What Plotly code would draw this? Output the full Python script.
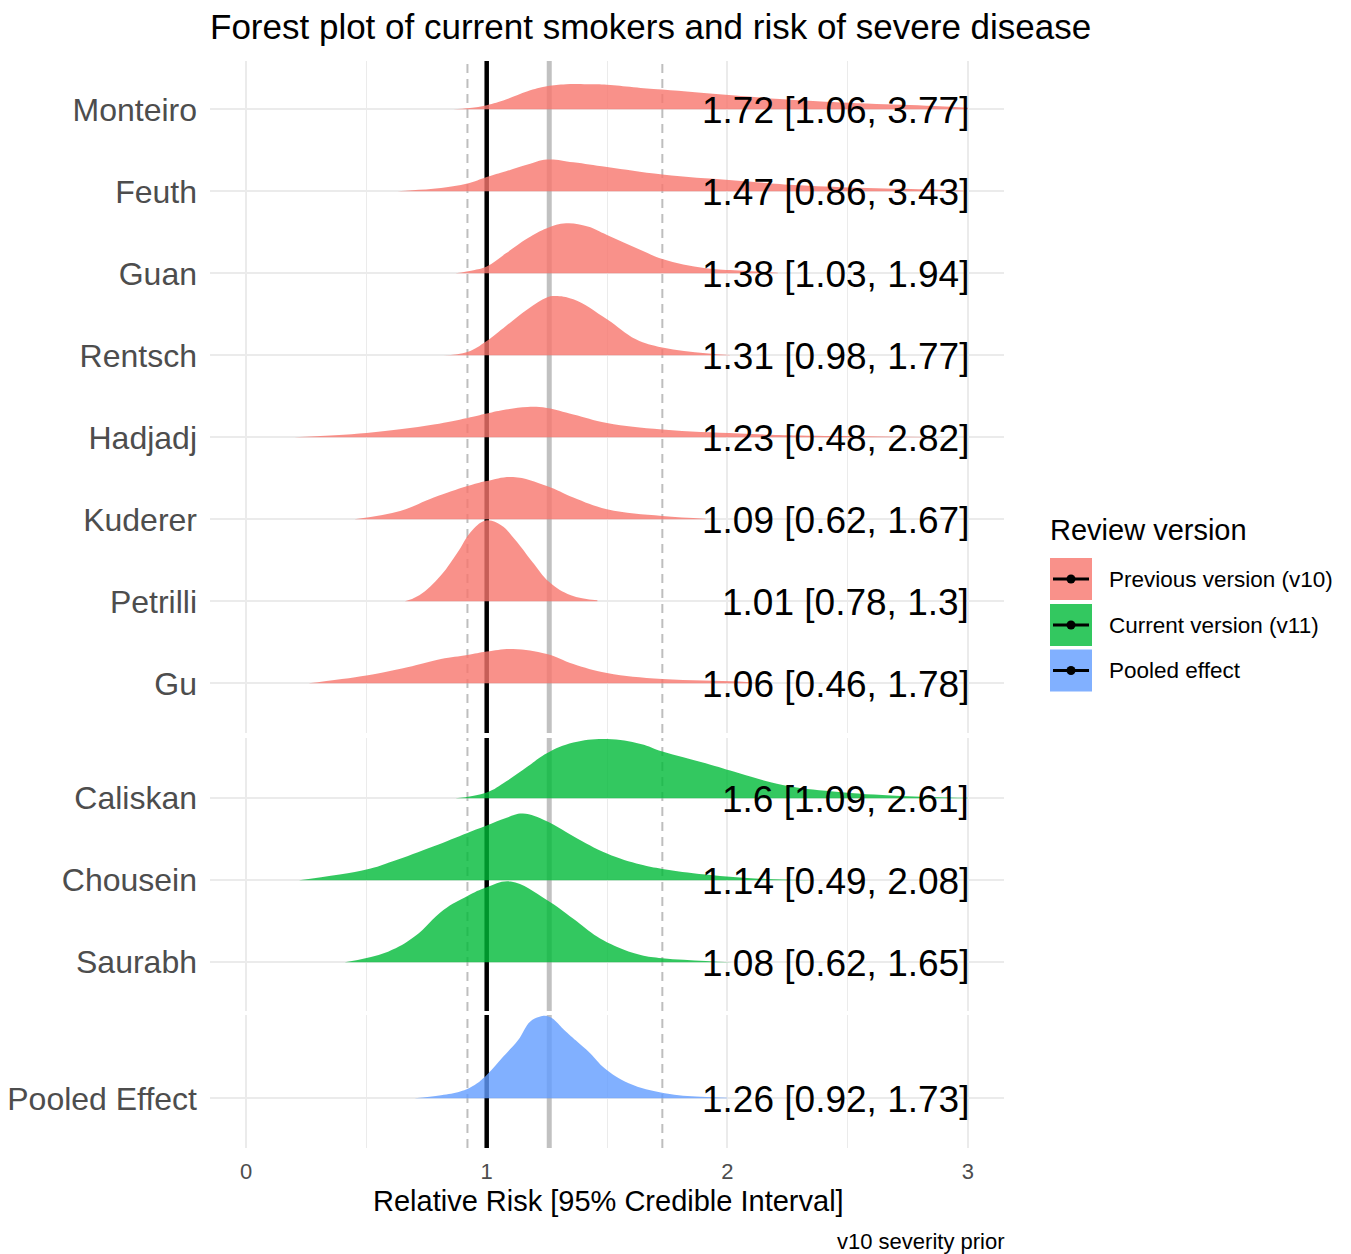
import plotly.graph_objects as go

# ---------------- data ----------------
STUDIES_V10 = ["Monteiro", "Feuth", "Guan", "Rentsch", "Hadjadj", "Kuderer", "Petrilli", "Gu"]
MEDIAN_V10 = [1.72, 1.47, 1.38, 1.31, 1.23, 1.09, 1.01, 1.06]
LOWER_V10 = [1.06, 0.86, 1.03, 0.98, 0.48, 0.62, 0.78, 0.46]
UPPER_V10 = [3.77, 3.43, 1.94, 1.77, 2.82, 1.67, 1.3, 1.78]

STUDIES_V11 = ["Caliskan", "Chousein", "Saurabh"]
MEDIAN_V11 = [1.6, 1.14, 1.08]
LOWER_V11 = [1.09, 0.49, 0.62]
UPPER_V11 = [2.61, 2.08, 1.65]

STUDIES_POOLED = ["Pooled Effect"]
MEDIAN_POOLED = [1.26]
LOWER_POOLED = [0.92]
UPPER_POOLED = [1.73]

NULL_EFFECT = 1

GROUP_NAMES = ["Previous version (v10)", "Current version (v11)", "Pooled effect"]

# posterior density curves (relative risk, scaled density height)
MONTEIRO_X = [0.86, 0.93, 1.00, 1.08, 1.17, 1.25, 1.33, 1.42, 1.50, 1.61, 1.73, 2.02, 2.30, 2.58, 2.86, 3.00]
MONTEIRO_H = [0.00, 0.015, 0.05, 0.12, 0.22, 0.28, 0.305, 0.305, 0.30, 0.27, 0.24, 0.17, 0.11, 0.07, 0.04, 0.02]
FEUTH_X = [0.63, 0.69, 0.81, 0.92, 1.00, 1.08, 1.17, 1.25, 1.36, 1.50, 1.73, 2.02, 2.30, 2.58, 2.86, 2.98]
FEUTH_H = [0.00, 0.012, 0.04, 0.094, 0.174, 0.244, 0.326, 0.387, 0.354, 0.296, 0.204, 0.134, 0.073, 0.04, 0.021, 0.006]
GUAN_X = [0.87, 0.95, 1.00, 1.08, 1.17, 1.25, 1.33, 1.42, 1.50, 1.64, 1.73, 1.91, 2.05, 2.21]
GUAN_H = [0.00, 0.04, 0.082, 0.244, 0.427, 0.549, 0.61, 0.57, 0.467, 0.285, 0.175, 0.061, 0.033, 0.008]
RENTSCH_X = [0.82, 0.92, 1.00, 1.08, 1.17, 1.25, 1.28, 1.36, 1.50, 1.62, 1.73, 1.91, 2.01]
RENTSCH_H = [0.00, 0.04, 0.174, 0.357, 0.561, 0.704, 0.723, 0.683, 0.439, 0.195, 0.094, 0.024, 0.004]
HADJADJ_X = [0.20, 0.50, 0.78, 0.92, 1.00, 1.08, 1.17, 1.25, 1.36, 1.50, 1.73, 2.05, 2.30, 2.58, 2.94]
HADJADJ_H = [0.00, 0.052, 0.155, 0.235, 0.289, 0.338, 0.37, 0.357, 0.277, 0.174, 0.094, 0.045, 0.021, 0.012, 0.0]
KUDERER_X = [0.45, 0.64, 0.78, 0.92, 1.00, 1.11, 1.25, 1.36, 1.50, 1.73, 1.91]
KUDERER_H = [0.00, 0.101, 0.265, 0.406, 0.467, 0.516, 0.406, 0.265, 0.122, 0.04, 0.008]
PETRILLI_X = [0.66, 0.72, 0.81, 0.88, 0.94, 1.00, 1.06, 1.12, 1.19, 1.26, 1.35, 1.46]
PETRILLI_H = [0.00, 0.073, 0.317, 0.601, 0.866, 0.988, 0.927, 0.744, 0.479, 0.235, 0.073, 0.012]
GU_X = [0.26, 0.50, 0.67, 0.81, 0.92, 1.00, 1.11, 1.25, 1.36, 1.50, 1.73, 2.05, 2.14]
GU_H = [0.00, 0.094, 0.195, 0.296, 0.345, 0.387, 0.418, 0.357, 0.235, 0.126, 0.052, 0.021, 0.0]
CALISKAN_X = [0.87, 1.00, 1.08, 1.17, 1.25, 1.36, 1.50, 1.64, 1.73, 1.91, 2.05, 2.23, 2.44, 2.72, 3.00]
CALISKAN_H = [0.00, 0.07, 0.204, 0.387, 0.549, 0.679, 0.723, 0.662, 0.57, 0.427, 0.305, 0.162, 0.082, 0.028, 0.006]
CHOUSEIN_X = [0.22, 0.50, 0.61, 0.78, 0.92, 1.00, 1.08, 1.15, 1.25, 1.36, 1.50, 1.64, 1.73, 1.91, 2.16, 2.60]
CHOUSEIN_H = [0.00, 0.13, 0.232, 0.415, 0.577, 0.667, 0.76, 0.813, 0.72, 0.537, 0.326, 0.191, 0.138, 0.07, 0.016, 0.0]
SAURABH_X = [0.41, 0.59, 0.70, 0.82, 0.92, 1.00, 1.10, 1.25, 1.36, 1.46, 1.54, 1.64, 1.73, 1.91, 2.02]
SAURABH_H = [0.00, 0.13, 0.313, 0.638, 0.809, 0.915, 0.984, 0.76, 0.53, 0.31, 0.19, 0.089, 0.049, 0.016, 0.0]
POOLED_X = [0.70, 0.81, 0.89, 0.95, 1.00, 1.07, 1.13, 1.18, 1.22, 1.26, 1.33, 1.37, 1.43, 1.49, 1.59, 1.74, 1.89, 2.00]
POOLED_H = [0.00, 0.037, 0.082, 0.162, 0.284, 0.512, 0.707, 0.935, 0.996, 0.996, 0.813, 0.707, 0.549, 0.366, 0.183, 0.061, 0.018, 0.006]

DENS_V10 = [(MONTEIRO_X, MONTEIRO_H), (FEUTH_X, FEUTH_H), (GUAN_X, GUAN_H), (RENTSCH_X, RENTSCH_H),
            (HADJADJ_X, HADJADJ_H), (KUDERER_X, KUDERER_H), (PETRILLI_X, PETRILLI_H), (GU_X, GU_H)]
DENS_V11 = [(CALISKAN_X, CALISKAN_H), (CHOUSEIN_X, CHOUSEIN_H), (SAURABH_X, SAURABH_H)]
DENS_POOLED = [(POOLED_X, POOLED_H)]

# ---------------- styling ----------------
W, H = 1351, 1254
FONT = "Liberation Sans, Arial, sans-serif"
FILLS = ["rgba(248,118,109,0.8)", "rgba(0,186,56,0.8)", "rgba(97,156,255,0.8)"]
GRID = "#EBEBEB"
LABEL_X = 3


def px_x(p):
    return p / W


def px_y(p):
    return 1 - p / H


X_DOMAIN = [px_x(210), px_x(1004)]
PANELS = [
    dict(names=STUDIES_V10, med=MEDIAN_V10, lo=LOWER_V10, hi=UPPER_V10, dens=DENS_V10,
         xa="x", ya="y", dom=[px_y(733), px_y(61)], rng=[0.394, 8.589]),
    dict(names=STUDIES_V11, med=MEDIAN_V11, lo=LOWER_V11, hi=UPPER_V11, dens=DENS_V11,
         xa="x2", ya="y2", dom=[px_y(1011), px_y(738)], rng=[0.406, 3.735]),
    dict(names=STUDIES_POOLED, med=MEDIAN_POOLED, lo=LOWER_POOLED, hi=UPPER_POOLED, dens=DENS_POOLED,
         xa="x3", ya="y3", dom=[px_y(1148), px_y(1015)], rng=[0.394, 2.016]),
]


def fmt(v):
    return f"{round(v, 2):g}"


fig = go.Figure()
shapes = []
annotations = []

REF_LINES = [
    (NULL_EFFECT, dict(color="black", width=4.5)),
    (MEDIAN_POOLED[0], dict(color="rgba(160,160,160,0.65)", width=5)),
    (LOWER_POOLED[0], dict(color="#BEBEBE", width=2, dash="9px,6px")),
    (UPPER_POOLED[0], dict(color="#BEBEBE", width=2, dash="9px,6px")),
]

for gi, p in enumerate(PANELS):
    n = len(p["names"])
    rows = [n - i for i in range(n)]
    # reference lines in each panel (drawn under the ridges)
    for v, ln in REF_LINES:
        fig.add_trace(go.Scatter(x=[v, v], y=p["rng"], mode="lines", line=ln,
                                 xaxis=p["xa"], yaxis=p["ya"], showlegend=False, hoverinfo="skip"))
    # ridges
    for i, (xs, hs) in enumerate(p["dens"]):
        r = rows[i]
        fig.add_trace(go.Scatter(x=[xs[0], xs[-1]], y=[r, r], mode="lines",
                                 line=dict(width=0, color="rgba(0,0,0,0)"),
                                 xaxis=p["xa"], yaxis=p["ya"], showlegend=False, hoverinfo="skip"))
        fig.add_trace(go.Scatter(x=xs, y=[r + h for h in hs], mode="lines",
                                 line=dict(width=0, shape="spline", smoothing=1.15, color=FILLS[gi]),
                                 fill="tonexty", fillcolor=FILLS[gi],
                                 xaxis=p["xa"], yaxis=p["ya"], showlegend=False,
                                 name=p["names"][i]))
        annotations.append(dict(
            x=LABEL_X, y=r, xref=p["xa"], yref=p["ya"], xanchor="right", yanchor="middle",
            text=f"{fmt(p['med'][i])} [{fmt(p['lo'][i])}, {fmt(p['hi'][i])}]",
            showarrow=False, xshift=3, yshift=-1, font=dict(family=FONT, size=37, color="black")))

    xkey = "xaxis" if gi == 0 else f"xaxis{gi + 1}"
    ykey = "yaxis" if gi == 0 else f"yaxis{gi + 1}"
    fig.update_layout(**{
        xkey: dict(domain=X_DOMAIN, range=[-0.15, 3.15], anchor=p["ya"],
                   tickvals=[0, 1, 2, 3], ticktext=["0", "1", "2", "3"],
                   showticklabels=(gi == 2), ticks="", showline=False, zeroline=False,
                   showgrid=True, gridcolor=GRID, gridwidth=2.2,
                   minor=dict(dtick=0.5, tick0=0, showgrid=True, gridcolor=GRID, gridwidth=1.1),
                   tickfont=dict(family=FONT, size=22, color="#4D4D4D"),
                   ticklabelstandoff=8, automargin=False, fixedrange=True),
        ykey: dict(domain=p["dom"], range=p["rng"], anchor=p["xa"],
                   tickvals=rows, ticktext=p["names"], ticks="", showline=False, zeroline=False,
                   showgrid=True, gridcolor=GRID, gridwidth=2.2,
                   tickfont=dict(family=FONT, size=32, color="#4D4D4D"),
                   ticklabelstandoff=12, automargin=False, fixedrange=True),
    })

# title, axis title, caption
annotations.append(dict(x=px_x(650), y=px_y(27), xref="paper", yref="paper", xanchor="center",
                        yanchor="middle", showarrow=False,
                        text="Forest plot of current smokers and risk of severe disease",
                        font=dict(family=FONT, size=35, color="black")))
annotations.append(dict(x=px_x(608), y=px_y(1201), xref="paper", yref="paper", xanchor="center",
                        yanchor="middle", showarrow=False,
                        text="Relative Risk [95% Credible Interval]",
                        font=dict(family=FONT, size=29, color="black")))
annotations.append(dict(x=px_x(1007), y=px_y(1241), xref="paper", yref="paper", xanchor="right",
                        yanchor="middle", showarrow=False, text="v10 severity prior",
                        font=dict(family=FONT, size=22, color="black")))

# legend (drawn manually to mimic ggplot keys)
annotations.append(dict(x=px_x(1048), y=px_y(530), xref="paper", yref="paper", xanchor="left",
                        yanchor="middle", showarrow=False, text="Review version",
                        font=dict(family=FONT, size=29, color="black")))
KEY_TOPS = [558, 604, 649.5]
for k, (name, top) in enumerate(zip(GROUP_NAMES, KEY_TOPS)):
    bot = top + 42
    cy = (top + bot) / 2
    shapes.append(dict(type="rect", xref="paper", yref="paper", x0=px_x(1050), x1=px_x(1092),
                       y0=px_y(bot), y1=px_y(top), fillcolor=FILLS[k], line=dict(width=0)))
    shapes.append(dict(type="line", xref="paper", yref="paper", x0=px_x(1053), x1=px_x(1089),
                       y0=px_y(cy), y1=px_y(cy), line=dict(color="black", width=3)))
    shapes.append(dict(type="circle", xref="paper", yref="paper", x0=px_x(1066.5), x1=px_x(1075.5),
                       y0=px_y(cy + 4.5), y1=px_y(cy - 4.5), fillcolor="black", line=dict(width=0)))
    annotations.append(dict(x=px_x(1107), y=px_y(cy), xref="paper", yref="paper", xanchor="left",
                            yanchor="middle", showarrow=False, text=name,
                            font=dict(family=FONT, size=22.5, color="black")))

fig.update_layout(
    width=W, height=H,
    margin=dict(l=0, r=0, t=0, b=0, pad=0),
    paper_bgcolor="white", plot_bgcolor="white",
    showlegend=False,
    shapes=shapes, annotations=annotations,
    font=dict(family=FONT),
)

fig.write_html("out.html", config={"displayModeBar": False},
               post_script="document.body.style.margin='0';document.body.style.padding='0';")
